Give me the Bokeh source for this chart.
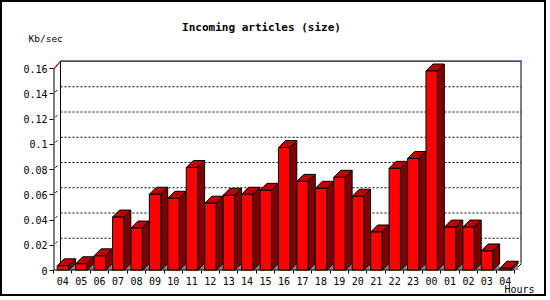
from bokeh.plotting import figure
from bokeh.models import Range1d, FixedTicker, Label
from bokeh.embed import file_html
from bokeh.resources import INLINE

# ---------------- data ----------------
hours = ["04", "05", "06", "07", "08", "09", "10", "11", "12", "13", "14", "15",
         "16", "17", "18", "19", "20", "21", "22", "23", "00", "01", "02", "03", "04"]
rates = [0.0037, 0.0053, 0.0116, 0.0423, 0.0336, 0.0604, 0.0572, 0.0816, 0.0533,
         0.0596, 0.0604, 0.0635, 0.0974, 0.0706, 0.0651, 0.0738, 0.0588, 0.0305,
         0.0809, 0.0887, 0.1580, 0.0344, 0.0344, 0.0155, 0.0018]
y_ticks = [0, 0.02, 0.04, 0.06, 0.08, 0.10, 0.12, 0.14, 0.16]
y_tick_labels = ["0", "0.02", "0.04", "0.06", "0.08", "0.1", "0.12", "0.14", "0.16"]
y_max = 0.16
title_text = "Incoming articles (size)"
y_title = "Kb/sec"
x_title = "Hours"

# ---------------- geometry ----------------
W, H = 550, 300
BORDER = 2
FRAME_L, FRAME_T, FRAME_R, FRAME_B = 53, 60, 521, 270
DEPTH = 7
N = len(hours)
xpx = (FRAME_R - FRAME_L - DEPTH) / N
ypx = (FRAME_B - FRAME_T - DEPTH - 1) / y_max
DX = DEPTH / xpx
DY = DEPTH / ypx
PAD = 1 / ypx
X_END = N + DX
Y_END = y_max + DY + PAD

p = figure(width=W - 2 * BORDER, height=H - 2 * BORDER,
           x_range=Range1d(0, X_END), y_range=Range1d(0, Y_END),
           output_backend="svg", toolbar_location=None,
           min_border_left=FRAME_L - BORDER, min_border_right=(W - BORDER) - FRAME_R,
           min_border_top=FRAME_T - BORDER, min_border_bottom=(H - BORDER) - FRAME_B)
p.styles = {"border": "2px solid black"}
p.outline_line_color = None
p.xgrid.visible = False
p.ygrid.visible = False
p.background_fill_color = "white"
p.border_fill_color = "white"

FONT = "DejaVu Sans Mono"

# y axis
p.yaxis.ticker = FixedTicker(ticks=y_ticks, minor_ticks=[])
p.yaxis.major_label_overrides = {t: l for t, l in zip(y_ticks, y_tick_labels)}
p.yaxis.axis_line_color = None
p.yaxis.major_tick_out = 4
p.yaxis.major_tick_in = 0
p.yaxis.major_tick_line_color = "black"
p.yaxis.major_label_standoff = 2
p.yaxis.major_label_text_font = FONT
p.yaxis.major_label_text_font_size = "10px"
p.yaxis.major_label_text_color = "black"

# x axis
centers = [i + 0.5 for i in range(N)]
p.xaxis.ticker = FixedTicker(ticks=centers, minor_ticks=list(range(N + 1)))
p.xaxis.major_label_overrides = {c: h for c, h in zip(centers, hours)}
p.xaxis.axis_line_color = None
p.xaxis.major_tick_out = 0
p.xaxis.major_tick_in = 0
p.xaxis.minor_tick_out = 3
p.xaxis.minor_tick_in = 0
p.xaxis.minor_tick_line_color = "black"
p.xaxis.major_label_standoff = 3
p.xaxis.major_label_text_font = FONT
p.xaxis.major_label_text_font_size = "10px"
p.xaxis.major_label_text_color = "black"

# back wall grid lines (dotted) and their short floor diagonals
grid_vals = [t for t in y_ticks if 0 < t < y_max]
p.segment(x0=[DX] * len(grid_vals), y0=[t + DY for t in grid_vals],
          x1=[X_END] * len(grid_vals), y1=[t + DY for t in grid_vals],
          line_color="black", line_width=1, line_dash="2 2")
p.segment(x0=[0.25 * DX] * len(grid_vals), y0=[t + 0.25 * DY for t in grid_vals],
          x1=[0.55 * DX] * len(grid_vals), y1=[t + 0.55 * DY for t in grid_vals],
          line_color="black", line_width=1)

# back wall frame
p.segment(x0=[DX], y0=[DY], x1=[DX], y1=[Y_END], line_color="black", line_width=1)
p.segment(x0=[DX, X_END], y0=[Y_END, DY], x1=[X_END, X_END], y1=[Y_END, Y_END],
          line_color="black", line_width=2)
p.segment(x0=[0], y0=[y_max - PAD], x1=[DX], y1=[Y_END - PAD * 0.5],
          line_color="black", line_width=1)
# red max line
p.segment(x0=[DX, 0.15 * DX], y0=[y_max + DY, y_max + 0.15 * DY - PAD],
          x1=[X_END, DX], y1=[y_max + DY, y_max + DY],
          line_color="red", line_width=1)
# floor right edge
p.segment(x0=[N], y0=[0], x1=[X_END], y1=[DY], line_color="black", line_width=1)

# bars
A, BW = 0.2, 0.615
front_x, front_y, top_x, top_y, side_x, side_y, sh_x, sh_y = [], [], [], [], [], [], [], []
for i, v in enumerate(rates):
    l = i + A
    r = l + BW
    front_x.append([l, r, r, l]); front_y.append([0, 0, v, v])
    top_x.append([l, r, r + DX, l + DX]); top_y.append([v, v, v + DY, v + DY])
    side_x.append([r, r + DX, r + DX, r]); side_y.append([0, DY, v + DY, v])
    sh_x.append([r, r + DX, r + DX]); sh_y.append([0, 0, DY])

p.patches(sh_x, sh_y, fill_color="#888888", line_color=None)
p.patches(side_x, side_y, fill_color="#800000", line_color="black", line_width=1)
p.patches(top_x, top_y, fill_color="#C00000", line_color="black", line_width=1)
p.patches(front_x, front_y, fill_color="#FF0000", line_color="black", line_width=1)

# front axes (drawn on frame edges, half clipped)
p.segment(x0=[0, 0], y0=[0, 0], x1=[0, N], y1=[y_max, 0], line_color="black", line_width=2)

# texts placed in the side panels (screen units, relative to each slot's bottom-left)
TITLE_SLOT = 14
p.add_layout(Label(x=261 - FRAME_L, y=FRAME_T - 27, x_units="screen", y_units="screen",
                   text=title_text, text_font=FONT,
                   text_font_style="bold", text_font_size="11px", text_align="center",
                   text_baseline="middle", text_color="black"), "above")
p.add_layout(Label(x=28 - FRAME_L, y=FRAME_T - TITLE_SLOT - 37, x_units="screen", y_units="screen",
                   text=y_title, text_font=FONT,
                   text_font_size="9.5px", text_align="left",
                   text_baseline="middle", text_color="black"), "above")
p.add_layout(Label(x=504 - FRAME_L, y=9, x_units="screen", y_units="screen",
                   text=x_title, text_font=FONT,
                   text_font_size="10px", text_align="left",
                   text_baseline="middle", text_color="black"), "below")

open("out.html", "w").write(file_html(p, INLINE))
